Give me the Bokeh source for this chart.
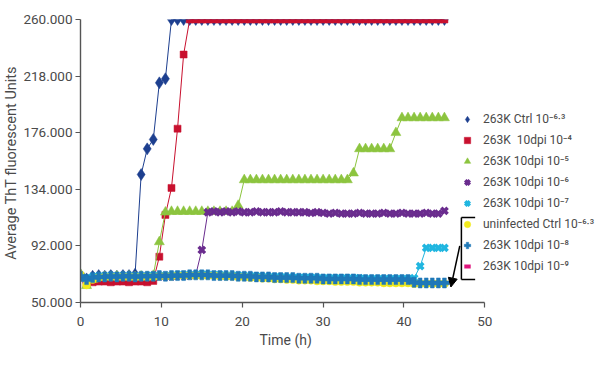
from bokeh.plotting import figure
from bokeh.models import (Legend, LegendItem, FixedTicker, Arrow, NormalHead, Range1d, Title)
from bokeh.embed import file_html
from bokeh.resources import INLINE

# ---------------- data (values in thousands of ThT units) ----------------
time_h = [0, 0.75, 1.5, 2.25, 3, 3.75, 4.5, 5.25, 6, 6.75, 7.5, 8.25, 9, 9.75, 10.5,
          11.25, 12, 12.75, 13.5, 14.25, 15, 15.75, 16.5, 17.25, 18, 18.75, 19.5, 20.25,
          21, 21.75, 22.5, 23.25, 24, 24.75, 25.5, 26.25, 27, 27.75, 28.5, 29.25, 30,
          30.75, 31.5, 32.25, 33, 33.75, 34.5, 35.25, 36, 36.75, 37.5, 38.25, 39, 39.75,
          40.5, 41.25, 42, 42.75, 43.5, 44.25, 45]

ctrl_63 = [70.5, 67.5, 69.5, 70, 69.5, 70, 69.5, 70, 70, 71, 145, 164, 171, 213, 216,
           260, 260, 260, 260, 260, 260, 260, 260, 260, 260, 260, 260, 260, 260, 260,
           260, 260, 260, 260, 260, 260, 260, 260, 260, 260, 260, 260, 260, 260, 260,
           260, 260, 260, 260, 260, 260, 260, 260, 260, 260, 260, 260, 260, 260, 260, 260]

dpi_4 = [69.5, 64, 65, 65.5, 65.5, 65, 65.5, 65.5, 65, 65.5, 65.5, 65, 66, 84, 115,
         135, 179, 234, 260, 260, 260, 260, 260, 260, 260, 260, 260, 260, 260, 260,
         260, 260, 260, 260, 260, 260, 260, 260, 260, 260, 260, 260, 260, 260, 260,
         260, 260, 260, 260, 260, 260, 260, 260, 260, 260, 260, 260, 260, 260, 260, 260]

dpi_5 = [71, 62.5, 67, 68.5, 69, 69, 69.5, 69, 69.5, 69, 69.5, 69, 70, 95, 117,
         117.5, 117.5, 117.5, 117.5, 117.5, 117.5, 117.5, 117.5, 117.5, 117.5, 117.5,
         122, 141, 141, 141, 141, 141, 141, 141, 141, 141, 141, 141, 141, 141, 141,
         141, 141, 141, 141, 146, 164, 164, 164, 164, 164, 164, 176, 187, 187, 187,
         187, 187, 187, 187, 187]

dpi_6 = [70, 66, 68.5, 69, 69, 69.5, 69, 69.5, 69, 69.5, 69, 69.5, 69, 69.5, 69.5,
         69.5, 70, 70, 70, 70.5, 89, 117, 117.5, 117, 117.5, 117, 117.5, 117, 117,
         117.5, 117, 117, 117, 117.5, 117, 117, 117, 117, 116.5, 117, 116.5, 116,
         116.5, 116, 116, 116, 116.5, 116, 116, 116, 116.5, 116, 116, 116.5, 116, 116,
         116, 116.5, 116, 116, 118]

dpi_7 = [70, 67.5, 69, 69.5, 69.5, 69.5, 69.5, 69.5, 69.5, 69.5, 69.5, 69.5, 70, 70,
         70, 70, 70.5, 70.5, 70.5, 70.5, 71, 70.5, 70.5, 70.5, 70, 70, 70, 69.5, 69.5,
         69.5, 69, 69, 69, 69, 68.5, 68.5, 68.5, 68.5, 68.5, 68, 68, 68, 68, 68, 68,
         68, 68, 67.5, 67.5, 67.5, 67.5, 67.5, 67.5, 67.5, 67.5, 68, 77, 90.5, 90.5,
         90.5, 90.5]

uninf_63 = [70.5, 63, 67, 68.5, 69, 69, 69, 69, 69, 69, 69, 69, 69, 69.5, 69.5, 69.5,
            70, 70, 70, 70, 70, 70, 70, 69.5, 69.5, 69.5, 69, 69, 68.5, 68.5, 68, 68,
            67.5, 67.5, 67, 67, 66.5, 66.5, 66.5, 66, 66, 66, 65.5, 65.5, 65.5, 65.5,
            65, 65, 65, 65, 64.5, 64.5, 64.5, 64.5, 64.5, 64, 64, 64, 64, 64, 64]

dpi_8 = [69.5, 67, 68.5, 69, 69, 69.5, 69, 69.5, 69.5, 69, 69.5, 69.5, 69.5, 70, 69.5,
         70, 70, 70, 70.5, 70.5, 70.5, 70.5, 70, 70, 70, 70, 69.5, 69.5, 69.5, 69, 69,
         69, 68.5, 68.5, 68.5, 68.5, 68, 68, 68, 68, 67.5, 67.5, 67.5, 67.5, 67.5,
         67.5, 67, 67, 67, 67, 67, 67, 67, 67, 67, 65, 64.5, 64.5, 64.5, 64.5, 64.5]

dpi_9 = [69, 66, 67, 68, 68, 68.5, 68.5, 68.5, 68.5, 68.5, 68.5, 68.5, 69, 69, 69, 69,
         69.5, 69.5, 69.5, 69.5, 69.5, 69.5, 69.5, 69.5, 69.5, 69, 69, 69, 69, 68.5,
         68.5, 68.5, 68, 68, 68, 68, 67.5, 67.5, 67.5, 67.5, 67, 67, 67, 67, 67, 67,
         66.5, 66.5, 66.5, 66.5, 66.5, 66.5, 66.5, 66.5, 66.5, 65, 64.5, 64.5, 64.5,
         64.5, 64.5]

series_labels = ["263K Ctrl 10\u207b\u2076\u00b7\u00b3", "263K  10dpi 10\u207b\u2074",
                 "263K 10dpi 10\u207b\u2075", "263K 10dpi 10\u207b\u2076",
                 "263K 10dpi 10\u207b\u2077", "uninfected Ctrl 10\u207b\u2076\u00b7\u00b3",
                 "263K 10dpi 10\u207b\u2078", "263K 10dpi 10\u207b\u2079"]

x_ticks = [0, 10, 20, 30, 40, 50]
y_ticks = [50, 92, 134, 176, 218, 260]
y_tick_labels = ["50.000", "92.000", "134.000", "176.000", "218.000", "260.000"]
x_axis_end = 50

# ---------------- styling ----------------
FONT = "Roboto"
TXT = "#4a4a4a"
AX = "#555555"

# frame extends right past the axis end so the legend can sit beside the curves
p = figure(width=600, height=360, output_backend="svg", toolbar_location=None,
           x_range=Range1d(0, 64.3), y_range=Range1d(50, 260),
           min_border_left=78, min_border_right=0, min_border_top=19,
           min_border_bottom=58)
p.outline_line_color = None
p.xgrid.visible = False
p.ygrid.visible = False
p.background_fill_color = "white"

for ax in (p.xaxis[0], p.yaxis[0]):
    ax.axis_line_color = AX
    ax.axis_line_width = 1.4
    ax.major_tick_line_color = AX
    ax.major_tick_line_width = 1.2
    ax.major_tick_in = 0
    ax.major_tick_out = 5
    ax.minor_tick_line_color = None
    ax.major_label_text_font = FONT
    ax.major_label_text_font_size = "13.5px"
    ax.major_label_text_color = TXT
    ax.axis_label_text_font = FONT
    ax.axis_label_text_font_style = "normal"
    ax.axis_label_text_color = TXT

p.xaxis.bounds = (0, x_axis_end)
p.xaxis.ticker = FixedTicker(ticks=x_ticks)
p.yaxis.ticker = FixedTicker(ticks=y_ticks)
p.yaxis.major_label_overrides = dict(zip(y_ticks, y_tick_labels))
p.yaxis.axis_label = "Average ThT fluorescent  Units"
p.yaxis.axis_label_text_font_size = "14.5px"
p.xaxis.major_label_standoff = 9
p.yaxis.major_label_standoff = 3
p.yaxis.axis_label_standoff = 0

p.add_layout(Title(text="Time (h)", align="left", offset=179, standoff=2,
                   text_font=FONT, text_font_size="14px", text_font_style="normal",
                   text_color=TXT), "below")

specs = [
    (ctrl_63, "#1d3f8f", "diamond", 12, 0.5),
    (dpi_4, "#c8102e", "square", 7, 0.5),
    (dpi_5, "#8cc43f", "triangle", 10, 0.5),
    (dpi_6, "#6a2c8e", "x", 9, 3.5),
    (dpi_7, "#20b6e0", "x", 9, 3.5),
    (uninf_63, "#f2ea1c", "circle", 8, 0.5),
    (dpi_8, "#1f78b8", "plus", 10, 0.5),
    (dpi_9, "#e0167e", "dash", 8, 4),
]

scatter_renderers = [None] * len(specs)
# 10^-9 series lies beneath the others (not visible in the reference)
order = [7, 0, 1, 2, 3, 4, 5, 6]
for k in order:
    vals, col, mk, sz, lw = specs[k]
    p.line(time_h, vals, line_color=col, line_width=1)
    r = p.scatter(time_h, vals, marker=mk, size=sz,
                  fill_color=col, line_color=col, line_width=lw)
    scatter_renderers[k] = r

items = [LegendItem(label=lab, renderers=[r]) for lab, r in zip(series_labels, scatter_renderers)]
legend = Legend(items=items, location=(379, 28), orientation="vertical",
                glyph_width=16, glyph_height=16, label_height=16, spacing=5,
                padding=0, margin=0, label_standoff=8,
                border_line_alpha=0, background_fill_alpha=0,
                label_text_font=FONT, label_text_font_size="12px",
                label_text_color=TXT)
p.add_layout(legend)

# bracket grouping the last three legend entries, with an arrow to the curves
bracket_x = 47.1
bracket_x_end = 48.8
bracket_top = 113
bracket_bottom = 67
for xs, ys, xe, ye in [(bracket_x_end, bracket_top, bracket_x, bracket_top),
                       (bracket_x, bracket_top, bracket_x, bracket_bottom),
                       (bracket_x, bracket_bottom, bracket_x_end, bracket_bottom)]:
    p.add_layout(Arrow(end=None, x_start=xs, y_start=ys, x_end=xe, y_end=ye,
                       line_color="black", line_width=1.5))
p.add_layout(Arrow(end=NormalHead(size=9, fill_color="black", line_color="black"),
                   x_start=46.9, y_start=92, x_end=45.8, y_end=61.5,
                   line_color="black", line_width=1.5))

open("out.html", "w").write(file_html(p, INLINE))
